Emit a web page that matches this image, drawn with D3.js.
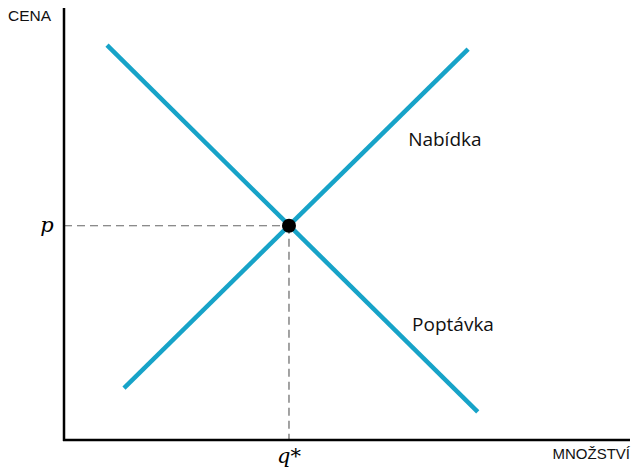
<!DOCTYPE html>
<html>
<head>
<meta charset="utf-8">
<script src="https://cdn.jsdelivr.net/npm/d3@7"></script>
<style>
  body { margin: 0; background: #fff; }
  svg { display: block; }
</style>
</head>
<body>
<svg id="chart" width="633" height="467"></svg>
<script>
// data, in abstract units 0..100
var demand = [{x: 7.6, y: 91.4}, {x: 73.1, y: 6.5}];
var supply = [{x: 10.6, y: 12.0}, {x: 71.4, y: 90.5}];
var equilibrium = {x: 39.75, y: 49.6};
var curveLabels = [
    {text: 'Nabídka', x: 60.8, y: 68.0},
    {text: 'Poptávka', x: 61.5, y: 25.3}
];

var svg = d3.select('#chart');
var margin = {top: 8, right: 3, bottom: 27, left: 64};
var width = 633 - margin.left - margin.right,
    height = 467 - margin.top - margin.bottom;

var g = svg.append('g')
    .attr('transform', 'translate(' + margin.left + ',' + margin.top + ')');

var xScale = d3.scaleLinear().domain([0, 100]).range([0, width]);
var yScale = d3.scaleLinear().domain([0, 100]).range([height, 0]);

// dashed guides
g.append('line')
    .attr('x1', xScale(0)).attr('y1', yScale(equilibrium.y))
    .attr('x2', xScale(equilibrium.x)).attr('y2', yScale(equilibrium.y))
    .attr('stroke', '#666').attr('stroke-width', 1.2)
    .attr('stroke-dasharray', '8,5');
g.append('line')
    .attr('x1', xScale(equilibrium.x)).attr('y1', yScale(equilibrium.y))
    .attr('x2', xScale(equilibrium.x)).attr('y2', yScale(0))
    .attr('stroke', '#666').attr('stroke-width', 1.2)
    .attr('stroke-dasharray', '8,5');

// curves
var line = d3.line()
    .x(d => xScale(d.x))
    .y(d => yScale(d.y));

[demand, supply].forEach(function (d) {
    g.append('path')
        .attr('d', line(d))
        .attr('fill', 'none')
        .attr('stroke', '#17a3c8')
        .attr('stroke-width', 4.5);
});

g.append('circle')
    .attr('cx', xScale(equilibrium.x))
    .attr('cy', yScale(equilibrium.y))
    .attr('r', 7)
    .attr('fill', '#000');

// axes (plain lines, no ticks)
g.append('line')
    .attr('x1', 0).attr('y1', 0)
    .attr('x2', 0).attr('y2', height + 1)
    .attr('stroke', '#000').attr('stroke-width', 2.5);
g.append('line')
    .attr('x1', -1).attr('y1', height)
    .attr('x2', width).attr('y2', height)
    .attr('stroke', '#000').attr('stroke-width', 2.5);

// axis titles
svg.append('text')
    .attr('x', 8).attr('y', 21)
    .style('font-family', 'Liberation Sans, Arial, sans-serif')
    .style('font-size', '15.5px')
    .style('fill', '#111')
    .text('CENA');
svg.append('text')
    .attr('x', 630).attr('y', 459)
    .attr('text-anchor', 'end')
    .style('font-family', 'Liberation Sans, Arial, sans-serif')
    .style('font-size', '15px')
    .style('fill', '#111')
    .text('MNOŽSTVÍ');

// p and q*
svg.append('text')
    .attr('x', 47).attr('y', yScale(equilibrium.y) + margin.top + 6)
    .attr('text-anchor', 'middle')
    .style('font-family', 'DejaVu Serif, serif')
    .style('font-style', 'italic')
    .style('font-size', '21px')
    .text('p');
svg.append('text')
    .attr('x', xScale(equilibrium.x) + margin.left).attr('y', 463)
    .attr('text-anchor', 'middle')
    .style('font-family', 'DejaVu Serif, serif')
    .style('font-style', 'italic')
    .style('font-size', '21px')
    .text('q*');

// curve labels
g.selectAll('.curve-label')
    .data(curveLabels)
    .enter()
    .append('text')
        .attr('class', 'curve-label')
        .attr('x', d => xScale(d.x))
        .attr('y', d => yScale(d.y))
        .style('font-family', 'Open Sans, sans-serif')
        .style('font-size', '19px')
        .style('fill', '#111')
        .text(d => d.text);
</script>
</body>
</html>
